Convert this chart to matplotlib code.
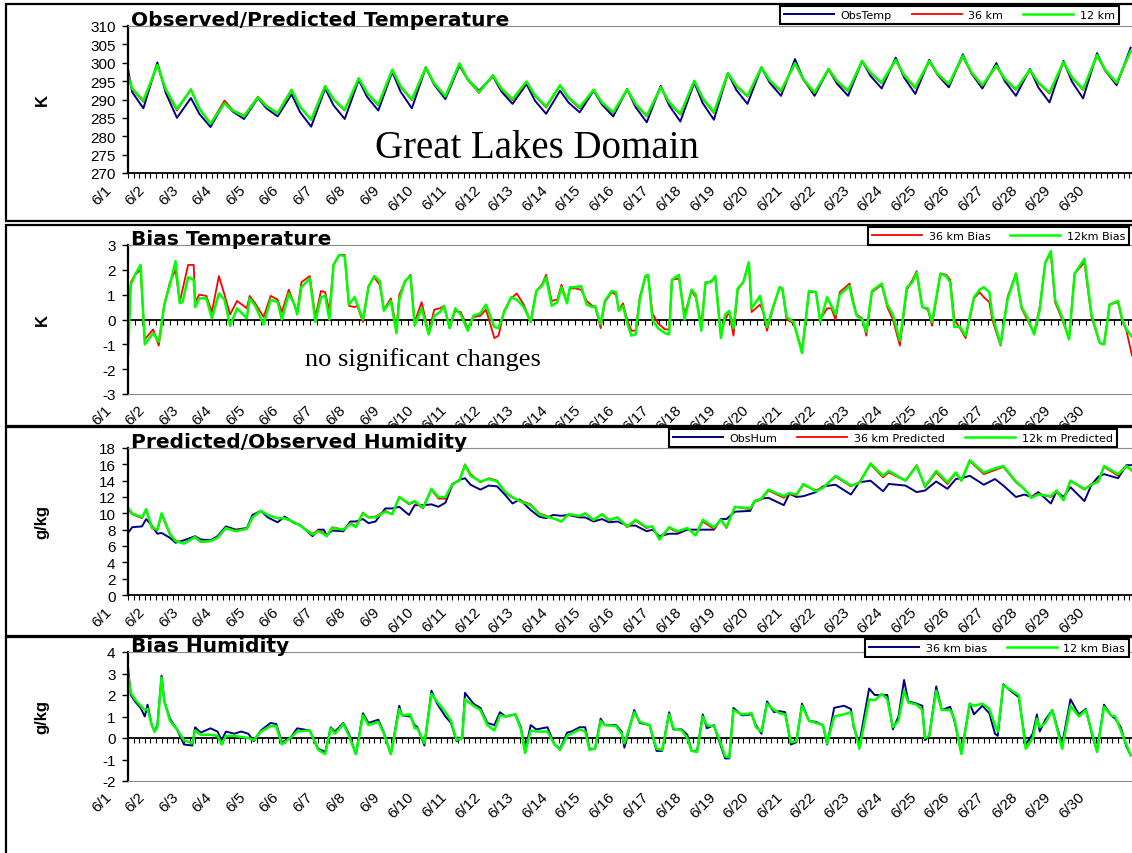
import matplotlib
matplotlib.use("Agg")
import matplotlib.pyplot as plt
import matplotlib.transforms as mtransforms
from matplotlib.patches import Rectangle
from matplotlib.ticker import MultipleLocator

plt.rcParams['font.family'] = ['Liberation Sans', 'DejaVu Sans']
plt.rcParams['axes.unicode_minus'] = False

NAVY, RED, GREEN = '#000080', '#ff0000', '#00ff00'

day_labels = [f'6/{d}' for d in range(1, 31)]
day_hours = [24 * d for d in range(30)]

# ---- panel 1: temperature (K); per day: early morning, minimum, afternoon peak
temp_hours = [0] + [24 * d + h for d in range(30) for h in (3, 11, 21)]
obs_temp = [298.3,
            292.0, 287.6, 300.1, 291.8, 285.0, 290.4, 286.1, 282.5, 289.2,
            286.7, 284.7, 290.4, 287.6, 285.4, 291.4, 286.6, 282.6, 293.0,
            288.4, 284.7, 295.3, 290.7, 287.0, 297.5, 292.1, 287.6, 298.7,
            294.0, 290.1, 299.2, 295.5, 292.4, 296.3, 292.2, 288.8, 294.2,
            289.7, 286.1, 292.4, 289.2, 286.5, 292.4, 288.6, 285.4, 292.8,
            287.9, 283.8, 293.7, 288.4, 284.0, 294.6, 289.0, 284.5, 297.2,
            292.6, 288.8, 298.7, 294.5, 291.0, 301.0, 295.5, 291.0, 298.3,
            294.3, 291.0, 300.5, 296.4, 293.0, 301.4, 296.0, 291.5, 300.8,
            296.7, 293.3, 302.3, 297.2, 293.0, 299.9, 295.0, 291.0, 298.3,
            293.3, 289.2, 300.5, 294.9, 290.3, 302.6, 297.8, 293.9, 304.1]
mod36_temp = [296.8,
              292.8, 289.4, 299.3, 292.6, 287.0, 292.8, 287.5, 283.4, 289.7,
              287.1, 285.6, 290.8, 288.3, 286.3, 292.7, 288.0, 284.5, 293.7,
              290.0, 287.0, 295.7, 291.7, 288.4, 298.0, 293.4, 289.8, 298.8,
              294.3, 290.7, 299.6, 295.3, 291.8, 296.5, 292.8, 289.8, 294.8,
              291.0, 287.8, 293.8, 290.4, 287.6, 292.7, 289.0, 286.3, 292.8,
              288.6, 285.4, 293.5, 289.1, 285.9, 295.0, 290.2, 286.3, 297.0,
              293.6, 290.8, 298.8, 295.0, 292.2, 299.8, 295.3, 291.7, 298.1,
              294.9, 292.2, 300.4, 297.1, 294.4, 300.6, 296.5, 293.1, 300.3,
              296.8, 294.0, 301.6, 297.3, 293.7, 299.0, 295.5, 292.6, 298.0,
              294.5, 291.6, 300.0, 295.9, 292.6, 301.9, 297.8, 294.4, 303.0]
mod12_temp = [296.5,
              293.0, 289.7, 299.4, 292.8, 287.4, 292.7, 287.6, 283.4, 289.0,
              287.0, 285.4, 290.6, 288.2, 286.3, 292.6, 288.1, 284.5, 293.6,
              290.1, 287.2, 295.8, 291.8, 288.6, 298.1, 293.6, 290.0, 298.7,
              294.4, 290.9, 299.8, 295.5, 292.0, 296.6, 293.0, 290.1, 294.9,
              291.2, 288.1, 293.9, 290.6, 287.9, 292.6, 289.2, 286.5, 292.7,
              288.8, 285.6, 293.3, 289.3, 286.1, 295.1, 290.4, 286.5, 297.2,
              293.8, 291.0, 298.7, 295.2, 292.4, 299.9, 295.5, 291.9, 298.3,
              295.1, 292.4, 300.5, 297.3, 294.6, 300.8, 296.7, 293.3, 300.5,
              297.0, 294.2, 301.9, 297.5, 293.9, 299.2, 295.7, 292.8, 298.1,
              294.7, 291.9, 300.2, 296.1, 292.8, 302.1, 298.0, 294.6, 303.2]

# ---- panel 2: temperature bias (K)
bt_hours = [0, 2, 5, 9, 12, 18, 22, 26, 30, 34, 37, 39, 43, 47, 48, 51, 56, 60, 65, 69,
            73, 78, 85, 87, 91, 97, 102, 107, 110, 115, 119, 121, 124, 130, 134, 138, 141, 144, 147, 151,
            155, 158, 162, 164, 168, 172, 176, 180, 183, 188, 192, 194, 198, 202, 205, 210, 215, 219, 223, 226,
            230, 234, 238, 243, 247, 252, 256, 262, 265, 269, 274, 278, 283, 288, 292, 296, 299, 303, 307, 310,
            314, 316, 320, 324, 328, 332, 334, 338, 341, 346, 349, 351, 354, 357, 360, 363, 366, 370, 372, 375,
            379, 384, 387, 389, 394, 398, 403, 406, 410, 413, 417, 420, 424, 427, 430, 433, 436, 440, 444, 446,
            452, 454, 457, 461, 466, 468, 471, 476, 482, 487, 492, 495, 500, 503, 506, 509, 516, 518, 521, 525,
            528, 532, 539, 543, 547, 552, 557, 561, 564, 568, 572, 575, 581, 585, 588, 591, 595, 599, 605, 609,
            612, 616, 618, 624, 629, 635, 639, 643, 648, 652, 656, 660, 663, 668, 673, 677, 684, 689, 695, 698,
            702, 708, 711, 714, 718]
bias36_temp = [-1.0, 1.5, 1.8, 2.0, -0.8, -0.4, -1.05, 0.6, 1.5, 2.0, 0.7, 1.2, 2.2, 2.2, 0.7, 1.0, 0.95, 0.3, 1.75, 1.0,
               0.2, 0.75, 0.45, 0.95, 0.65, 0.1, 0.95, 0.8, 0.3, 1.2, 0.6, 0.3, 1.5, 1.75, 0.1, 1.15, 1.1, 0.35, 2.2, 2.6,
               2.6, 0.55, 0.5, 0.55, -0.1, 1.35, 1.7, 1.4, 0.4, 0.85, -0.4, 1.0, 1.5, 1.8, -0.1, 0.7, -0.55, 0.4, 0.45, 0.55,
               -0.35, 0.35, 0.3, -0.35, 0.1, 0.15, 0.4, -0.75, -0.65, 0.35, 0.85, 1.05, 0.6, -0.1, 1.15, 1.4, 1.8, 0.75, 0.8, 1.4,
               0.7, 1.25, 1.25, 1.2, 0.75, 0.55, 0.55, -0.35, 0.7, 1.1, 1.0, 0.4, 0.65, 0.0, -0.45, -0.45, 0.9, 1.7, 1.75, 0.25,
               -0.15, -0.4, -0.4, 1.6, 1.65, 0.2, 1.15, 0.9, -0.2, 1.45, 1.55, 1.7, -0.55, 0.0, 0.3, -0.65, 1.2, 1.5, 2.3, 0.3,
               0.6, 0.35, -0.45, 0.4, 1.3, 1.2, 0.0, -0.15, -1.25, 1.1, 1.1, 0.0, 0.45, 0.45, 0.0, 1.1, 1.45, 0.9, 0.2, 0.05,
               -0.65, 1.1, 1.4, 0.5, 0.0, -1.05, 1.2, 1.6, 1.95, 0.5, 0.4, -0.25, 1.85, 1.8, 1.6, 0.0, -0.35, -0.75, 0.85, 1.1,
               0.9, 0.7, 0.0, -1.05, 0.9, 1.85, 0.45, 0.0, -0.55, 0.5, 2.3, 2.65, 0.7, 0.0, -0.75, 1.85, 2.3, 0.1, -0.95, -1.0,
               0.6, 0.7, -0.05, -0.45, -1.45]
bias12_temp = [-1.4, 1.4, 1.8, 2.2, -1.0, -0.55, -0.9, 0.6, 1.4, 2.35, 0.66, 0.7, 1.7, 1.6, 0.5, 0.85, 0.85, 0.05, 1.05, 0.8,
               -0.25, 0.45, 0.05, 0.85, 0.55, -0.2, 0.8, 0.7, 0.0, 1.05, 0.6, 0.2, 1.3, 1.65, -0.1, 0.9, 0.95, 0.0, 2.2, 2.6,
               2.55, 0.6, 0.9, 0.6, 0.0, 1.3, 1.75, 1.55, 0.35, 0.75, -0.55, 0.8, 1.55, 1.75, -0.25, 0.45, -0.6, 0.15, 0.3, 0.55,
               -0.35, 0.45, 0.2, -0.45, 0.15, 0.25, 0.6, -0.3, -0.35, 0.3, 0.9, 0.8, 0.5, -0.1, 1.15, 1.35, 1.7, 0.55, 0.7, 1.3,
               0.65, 1.3, 1.3, 1.35, 0.6, 0.5, 0.55, -0.2, 0.75, 1.15, 1.1, 0.35, 0.55, -0.15, -0.65, -0.6, 0.8, 1.75, 1.8, 0.0,
               -0.35, -0.55, -0.6, 1.6, 1.8, 0.0, 1.2, 1.0, -0.45, 1.5, 1.5, 1.75, -0.75, 0.2, 0.35, -0.35, 1.25, 1.5, 2.3, 0.45,
               0.95, 0.4, -0.3, 0.45, 1.3, 1.25, 0.1, -0.1, -1.35, 1.15, 1.1, -0.1, 0.9, 0.55, 0.2, 1.0, 1.35, 0.8, 0.15, 0.0,
               -0.5, 1.15, 1.45, 0.6, 0.2, -0.85, 1.3, 1.5, 1.9, 0.5, 0.45, -0.1, 1.85, 1.75, 1.5, -0.3, -0.3, -0.65, 0.9, 1.2,
               1.3, 1.1, 0.2, -1.0, 0.8, 1.85, 0.5, 0.1, -0.6, 0.4, 2.3, 2.75, 0.8, 0.1, -0.8, 1.85, 2.45, 0.2, -0.95, -1.0,
               0.6, 0.75, 0.0, -0.4, -0.7]

# ---- panel 3: humidity (g/kg)
hum_hours = [0, 3, 10, 13, 17, 21, 24, 30, 34, 40, 48, 52, 59, 64, 70, 77, 85, 89, 95, 100,
             107, 112, 119, 123, 132, 136, 140, 142, 146, 154, 159, 163, 168, 172, 177, 184, 189, 194, 201, 205,
             211, 217, 222, 227, 232, 237, 241, 245, 252, 258, 264, 270, 275, 280, 288, 294, 299, 304, 310, 315,
             323, 327, 333, 339, 344, 350, 357, 363, 371, 375, 380, 387, 393, 400, 406, 411, 419, 424, 428, 434,
             445, 448, 453, 458, 469, 473, 478, 483, 492, 497, 506, 517, 523, 531, 540, 544, 556, 564, 570, 578,
             586, 592, 596, 602, 612, 620, 626, 635, 641, 646, 651, 660, 664, 669, 674, 684, 689, 694, 698, 708,
             714, 718]
obs_hum = [7.6, 8.3, 8.4, 9.3, 8.5, 7.5, 7.6, 7.0, 6.4, 6.7, 7.2, 6.8, 6.7, 7.2, 8.4, 8.0, 8.2, 9.8, 10.3, 9.5,
           8.9, 9.6, 8.8, 8.6, 7.2, 8.0, 8.0, 7.3, 7.9, 7.8, 9.0, 9.0, 9.3, 8.8, 9.0, 10.6, 10.6, 10.8, 9.8, 11.0,
           11.0, 11.1, 10.8, 11.3, 13.5, 14.1, 14.3, 13.5, 12.9, 13.4, 13.3, 12.2, 11.2, 11.7, 10.4, 9.6, 9.4, 9.8, 9.7, 9.8,
           9.5, 9.5, 9.0, 9.3, 8.9, 9.0, 8.5, 8.5, 7.8, 8.0, 7.2, 7.5, 7.5, 8.0, 8.0, 8.0, 8.0, 9.3, 9.3, 10.2,
           10.3, 11.5, 11.8, 11.9, 11.0, 12.4, 12.0, 12.1, 12.6, 13.3, 13.5, 12.3, 13.8, 14.0, 12.7, 13.6, 13.4, 12.6, 12.8, 13.9,
           13.0, 14.2, 14.3, 14.6, 13.5, 14.2, 13.4, 12.0, 12.3, 12.0, 12.6, 11.2, 12.7, 12.0, 13.2, 11.5, 13.5, 14.5, 14.8, 14.3,
           15.9, 15.9]
mod36_hum = [10.5, 9.9, 9.4, 10.5, 8.2, 7.9, 9.9, 7.4, 6.7, 6.3, 7.1, 6.5, 6.6, 7.0, 8.2, 7.9, 8.1, 9.5, 10.3, 9.8,
             9.4, 9.4, 8.9, 8.5, 7.5, 7.9, 7.6, 7.2, 8.3, 8.0, 8.8, 8.4, 10.1, 9.5, 9.6, 10.3, 9.9, 12.0, 11.1, 11.4,
             10.6, 12.9, 11.8, 11.8, 13.6, 14.0, 16.0, 14.8, 13.8, 14.3, 14.0, 12.5, 11.9, 11.6, 11.1, 10.0, 9.7, 9.4, 9.0, 9.9,
             9.6, 10.0, 9.1, 9.9, 9.1, 9.5, 8.3, 9.1, 8.2, 8.4, 6.8, 8.2, 7.7, 8.2, 7.3, 9.0, 8.1, 9.2, 8.2, 10.8,
             10.5, 11.4, 11.7, 12.8, 11.9, 12.4, 12.2, 13.5, 12.8, 13.2, 14.5, 13.3, 13.8, 16.0, 14.4, 15.0, 14.0, 15.9, 13.2, 15.0,
             13.6, 14.9, 14.0, 16.4, 14.8, 15.3, 15.7, 13.8, 13.0, 12.0, 12.4, 12.0, 12.6, 11.7, 14.0, 12.9, 13.6, 14.0, 15.7, 14.6,
             15.8, 15.3]
mod12_hum = [10.7, 10.0, 9.5, 10.5, 8.3, 8.0, 10.0, 7.5, 6.6, 6.3, 7.1, 6.5, 6.6, 7.0, 8.2, 7.8, 8.1, 9.5, 10.3, 9.8,
             9.4, 9.4, 8.9, 8.5, 7.4, 7.8, 7.5, 7.2, 8.2, 8.0, 8.7, 8.3, 10.0, 9.5, 9.5, 10.2, 9.9, 12.0, 11.2, 11.5,
             10.7, 13.0, 12.0, 12.0, 13.6, 14.0, 15.9, 14.6, 13.9, 14.2, 13.9, 12.6, 12.0, 11.5, 11.0, 9.9, 9.6, 9.4, 9.0, 9.9,
             9.7, 10.0, 9.2, 9.9, 9.2, 9.5, 8.4, 9.2, 8.3, 8.4, 6.8, 8.3, 7.8, 8.2, 7.3, 9.2, 8.3, 9.2, 8.3, 10.8,
             10.6, 11.5, 11.8, 12.9, 12.1, 12.5, 12.3, 13.6, 12.7, 13.1, 14.6, 13.4, 13.7, 16.1, 14.6, 15.2, 14.0, 15.8, 13.3, 15.2,
             13.8, 15.0, 14.0, 16.5, 15.0, 15.5, 15.8, 13.9, 13.0, 11.9, 12.3, 12.1, 12.8, 11.6, 14.0, 13.0, 13.5, 13.9, 15.8, 14.8,
             15.8, 15.2]

# ---- panel 4: humidity bias (g/kg)
bh_hours = [0, 2, 5, 9, 12, 14, 17, 19, 21, 24, 26, 30, 35, 40, 46, 48, 52, 59, 64, 67,
            70, 76, 81, 86, 90, 95, 102, 106, 110, 116, 121, 130, 136, 141, 145, 148, 154, 158, 163, 168,
            172, 179, 183, 188, 194, 196, 202, 205, 207, 212, 217, 221, 227, 231, 235, 239, 241, 247, 252, 257,
            262, 266, 270, 277, 281, 284, 288, 292, 300, 305, 309, 314, 317, 323, 327, 330, 334, 338, 341, 349,
            353, 355, 362, 366, 373, 378, 382, 387, 390, 396, 400, 403, 407, 411, 414, 419, 422, 427, 430, 433,
            439, 446, 449, 453, 457, 462, 466, 470, 474, 478, 482, 487, 492, 497, 500, 505, 512, 517, 519, 523,
            530, 534, 539, 543, 547, 551, 555, 558, 564, 568, 570, 573, 578, 582, 588, 591, 596, 602, 605, 611,
            616, 620, 622, 626, 631, 637, 642, 647, 650, 652, 656, 661, 668, 674, 680, 685, 690, 693, 698, 703,
            706, 710, 714, 717]
bias36_hum = [3.3, 2.0, 1.7, 1.4, 1.0, 1.55, 0.6, 0.3, 0.6, 2.9, 1.7, 0.9, 0.4, -0.3, -0.35, 0.5, 0.25, 0.45, 0.3, -0.1,
              0.3, 0.2, 0.3, 0.2, -0.15, 0.35, 0.7, 0.65, -0.2, 0.0, 0.45, 0.35, -0.5, -0.65, 0.5, 0.3, 0.7, 0.2, -0.75, 1.15,
              0.7, 0.85, 0.25, -0.75, 1.5, 1.05, 1.0, 0.6, 0.5, -0.35, 2.2, 1.6, 1.0, 0.7, -0.15, 0.0, 2.1, 1.6, 1.4, 0.7,
              0.6, 1.2, 1.0, 1.1, 0.5, -0.6, 0.6, 0.4, 0.5, -0.3, -0.5, 0.25, 0.3, 0.5, 0.5, -0.5, -0.5, 0.9, 0.6, 0.6,
              0.3, -0.45, 1.3, 0.7, 0.6, -0.6, -0.6, 1.2, 0.4, 0.4, 0.15, -0.6, -0.6, 1.1, 0.45, 0.6, 0.0, -0.95, -0.95, 1.4,
              1.05, 1.1, 0.6, 0.2, 1.7, 1.2, 1.25, 1.2, -0.3, -0.2, 1.6, 0.8, 0.75, 0.6, -0.3, 1.4, 1.5, 1.35, 0.5, -0.25,
              2.3, 2.0, 2.0, 2.0, 0.4, 1.0, 2.7, 1.7, 1.6, 1.5, -0.1, 0.1, 2.4, 1.3, 1.45, 0.8, -0.7, 1.6, 1.1, 1.5,
              1.15, 0.2, 0.1, 2.5, 2.2, 1.9, -0.3, 0.2, 1.1, 0.3, 0.85, 1.3, -0.3, 1.8, 1.1, 1.35, 0.0, -0.6, 1.55, 1.05,
              0.9, 0.5, -0.4, -0.8]
bias12_hum = [3.0, 2.1, 1.8, 1.5, 1.3, 1.35, 0.6, 0.3, 0.5, 2.8, 1.7, 0.8, 0.4, -0.1, -0.25, 0.35, 0.15, 0.15, 0.1, -0.3,
              0.1, 0.1, 0.05, 0.0, -0.1, 0.3, 0.55, 0.55, -0.3, 0.0, 0.3, 0.35, -0.55, -0.75, 0.45, 0.2, 0.65, 0.1, -0.75, 1.05,
              0.6, 0.75, 0.2, -0.75, 1.35, 1.05, 1.1, 0.45, 0.45, -0.25, 2.05, 1.7, 1.2, 0.8, -0.1, 0.0, 1.8, 1.5, 1.3, 0.6,
              0.35, 1.05, 1.0, 1.1, 0.4, -0.7, 0.35, 0.3, 0.3, -0.3, -0.55, 0.1, 0.2, 0.4, 0.3, -0.55, -0.5, 0.8, 0.6, 0.55,
              0.2, -0.25, 1.2, 0.75, 0.6, -0.5, -0.55, 1.1, 0.45, 0.35, 0.0, -0.6, -0.65, 1.0, 0.6, 0.55, 0.1, -0.85, -0.9, 1.3,
              1.1, 1.15, 0.5, 0.3, 1.6, 1.3, 1.15, 1.1, -0.2, -0.15, 1.5, 0.8, 0.7, 0.6, -0.25, 1.0, 1.1, 1.2, 0.6, -0.5,
              1.8, 1.75, 2.05, 1.8, 0.5, 0.8, 2.2, 1.65, 1.55, 1.3, 0.0, 0.1, 2.2, 1.3, 1.3, 0.9, -0.75, 1.6, 1.5, 1.6,
              1.35, 0.6, 0.3, 2.45, 2.25, 2.0, -0.5, 0.0, 0.9, 0.5, 0.7, 1.3, -0.5, 1.5, 1.0, 1.3, 0.1, -0.65, 1.45, 1.05,
              1.0, 0.35, -0.3, -0.8]

W, H = 1132, 854
fig = plt.figure(figsize=(W / 100, H / 100), dpi=100)
label_shift = mtransforms.ScaledTranslation(-24 / 100, 0, fig.dpi_scale_trans)


def frame(y0, y1, z):
    # white panel box with black border, in pixel coords from the top
    fig.add_artist(Rectangle((6 / W, 1 - y1 / H), 1.2, (y1 - y0) / H,
                             transform=fig.transFigure, facecolor='white',
                             edgecolor='black', lw=1.6, zorder=z))


def make_axes(y0, y1, z, ylim, ystep, zero_frac=None, minor=4):
    ax = fig.add_axes([128 / W, 1 - y1 / H, (1132 - 128) / W, (y1 - y0) / H])
    ax.set_zorder(z)
    ax.set_xlim(0, 718)
    ax.set_ylim(*ylim)
    ax.yaxis.set_major_locator(MultipleLocator(ystep))
    ax.spines['right'].set_visible(False)
    ax.spines['top'].set_color('#8c8c8c')
    ax.spines['left'].set_linewidth(1.6)
    ax.tick_params(axis='y', direction='out', length=4, width=1, labelsize=11, pad=5)
    ax.set_xticks(day_hours, day_labels)
    if zero_frac is None:
        ax.spines['bottom'].set_linewidth(1.3)
        ax.xaxis.set_minor_locator(MultipleLocator(minor))
        ax.tick_params(axis='x', which='both', direction='out', length=3.5, width=0.8,
                       labelsize=11, pad=3)
    else:
        ax.spines['bottom'].set_color('#8c8c8c')
        ax.tick_params(axis='x', which='both', length=0, labelsize=11, pad=6)
        sec = ax.secondary_xaxis(zero_frac)
        sec.set_xticks(list(range(0, 719, minor)))
        sec.tick_params(axis='x', direction='out', length=3.5, width=0.8,
                        labelbottom=False, labeltop=False)
        sec.spines['bottom'].set_linewidth(1.3)
    for lbl in ax.get_xticklabels():
        lbl.set_rotation(45)
        lbl.set_ha('right')
        lbl.set_va('top')
        lbl.set_rotation_mode('anchor')
        lbl.set_transform(lbl.get_transform() + label_shift)
    return ax


def title(ax, text):
    ax.text(0.003, 1.005, text, transform=ax.transAxes, fontsize=14.5,
            family='DejaVu Sans', fontweight='bold', va='baseline', ha='left')


def ylabel(y0, y1, text):
    fig.text(42 / W, 1 - (y0 + y1) / 2 / H, text, rotation=90, fontsize=12,
             fontweight='bold', ha='center', va='center', zorder=20)


def legend(ax, x_left, y_top, ncol):
    leg = ax.legend(loc='upper left', bbox_to_anchor=(x_left / W, 1 - y_top / H),
                    bbox_transform=fig.transFigure, ncol=ncol,
                    prop={'family': 'DejaVu Sans', 'size': 8},
                    frameon=True, fancybox=False, edgecolor='black', framealpha=1,
                    handlelength=4.5, handletextpad=0.6, columnspacing=1.8,
                    borderpad=0.35, borderaxespad=0)
    leg.get_frame().set_linewidth(1.5)


# panel 1
frame(5, 222, 1)
ax1 = make_axes(27, 174, 2, (270, 310), 5)
ax1.plot(temp_hours, obs_temp, color=NAVY, lw=1.4, label='ObsTemp')
ax1.plot(temp_hours, mod36_temp, color=RED, lw=1.3, label='36 km')
ax1.plot(temp_hours, mod12_temp, color=GREEN, lw=1.8, label='12 km')
title(ax1, 'Observed/Predicted Temperature')
legend(ax1, 780, 7, 3)
ylabel(27, 174, 'K')
fig.text(537 / W, 1 - 148 / H, 'Great Lakes Domain', family='Liberation Serif',
         fontsize=28, ha='center', va='center', zorder=20)

# panel 2
frame(226, 427, 3)
ax2 = make_axes(246, 395, 4, (-3, 3), 1, zero_frac=0.4999, minor=5)
ax2.plot(bt_hours, bias36_temp, color=RED, lw=1.3, label='36 km Bias')
ax2.plot(bt_hours, bias12_temp, color=GREEN, lw=1.8, label='12km Bias')
title(ax2, 'Bias Temperature')
legend(ax2, 868, 228, 2)
ylabel(246, 395, 'K')
fig.text(423 / W, 1 - 360 / H, 'no significant changes', family='Liberation Serif',
         fontsize=19, ha='center', va='center', zorder=20)

# panel 3
frame(428, 637, 5)
ax3 = make_axes(449, 596, 6, (0, 18), 2)
ax3.plot(hum_hours, obs_hum, color=NAVY, lw=1.4, label='ObsHum')
ax3.plot(hum_hours, mod36_hum, color=RED, lw=1.3, label='36 km Predicted')
ax3.plot(hum_hours, mod12_hum, color=GREEN, lw=1.8, label='12k m Predicted')
title(ax3, 'Predicted/Observed Humidity')
legend(ax3, 669, 430, 3)
ylabel(449, 596, 'g/kg')

# panel 4
frame(638, 900, 7)
ax4 = make_axes(653, 782, 8, (-2, 4), 1, zero_frac=2 / 6)
ax4.plot(bh_hours, bias36_hum, color=NAVY, lw=1.4, label='36 km bias')
ax4.plot(bh_hours, bias12_hum, color=GREEN, lw=1.8, label='12 km Bias')
title(ax4, 'Bias Humidity')
legend(ax4, 865, 640, 2)
ylabel(653, 782, 'g/kg')

fig.savefig('out.png', dpi=100)
